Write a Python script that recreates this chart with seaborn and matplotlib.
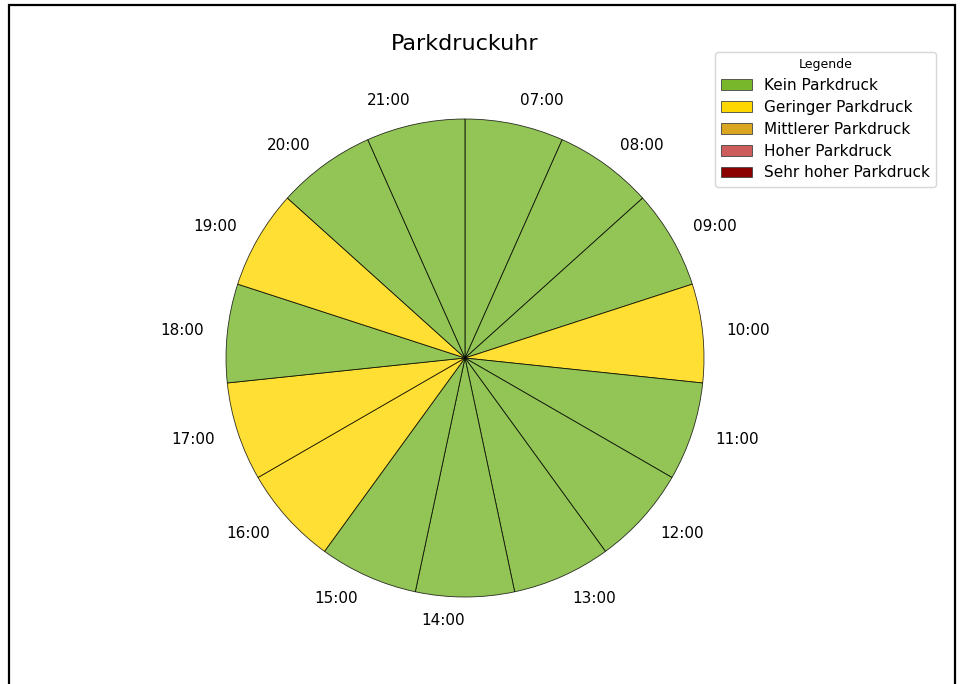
import matplotlib
matplotlib.use("Agg")
import matplotlib.pyplot as plt
import seaborn as sns
from matplotlib.patches import Patch, Rectangle

sns.set_style("white")
plt.rcParams['font.family'] = ['DejaVu Sans']
plt.rcParams['text.color'] = 'black'

hours = ["07:00", "08:00", "09:00", "10:00", "11:00", "12:00", "13:00", "14:00",
         "15:00", "16:00", "17:00", "18:00", "19:00", "20:00", "21:00"]
levels = [0, 0, 0, 1, 0, 0, 0, 0, 0, 1, 1, 0, 1, 0, 0]
level_names = ["Kein Parkdruck", "Geringer Parkdruck", "Mittlerer Parkdruck",
               "Hoher Parkdruck", "Sehr hoher Parkdruck"]
level_colors = ["#78b62c", "#ffd700", "#daa520", "#cd5c5c", "#8b0000"]
sizes = [1] * len(hours)

palette = sns.color_palette(level_colors)

W, H = 962, 684
fig = plt.figure(figsize=(W / 100, H / 100), dpi=100)
cx, cy, r = 465, H - 358, 239
half = 1.25 * r
ax = fig.add_axes([(cx - half) / W, (cy - half) / H, 2 * half / W, 2 * half / H])

ax.pie(sizes, labels=hours, colors=[palette[l] for l in levels],
       startangle=90, counterclock=False, labeldistance=1.1,
       wedgeprops=dict(edgecolor="black", linewidth=0.6, alpha=0.8),
       textprops=dict(fontsize=11, color="black"))
ax.set_xlim(-1.25, 1.25)
ax.set_ylim(-1.25, 1.25)
ax.set_aspect("equal")
ax.axis("off")

fig.text(cx / W, 1 - 44 / H, "Parkdruckuhr", ha="center", va="center",
         fontsize=16, color="black")

handles = [Patch(facecolor=palette[i], edgecolor="#444444", linewidth=0.6, label=n)
           for i, n in enumerate(level_names)]
leg = fig.legend(handles=handles, title="Legende", loc="upper right",
                 bbox_to_anchor=(936 / W, 1 - 52 / H), fontsize=11,
                 title_fontsize=9, frameon=True, handlelength=2.0,
                 handletextpad=0.8, borderaxespad=0, labelspacing=0.45)
for t in leg.get_texts():
    t.set_color("black")
leg.get_title().set_color("black")

fig.patches.append(Rectangle((8.5 / W, -0.1), (955 - 8.5) / W, 1.1 - 5.5 / H,
                             transform=fig.transFigure, fill=False,
                             edgecolor="black", linewidth=1.6))

fig.savefig("out.png", dpi=100)
